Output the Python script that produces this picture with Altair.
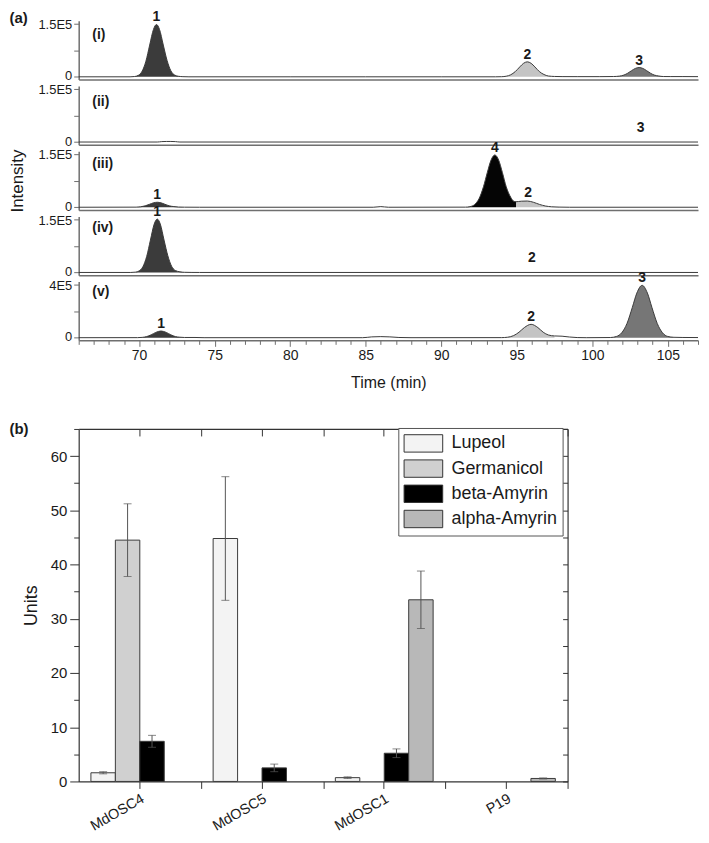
import altair as alt
import pandas as pd

FONT = "Liberation Sans"
TEXT = "#1a1a1a"
AX = "#6f6f6f"

# ---------------- (a) chromatograms ----------------
X_MIN, X_MAX = 66, 107
X_TICKS = list(range(66, 108))
TAG_T = 66.9

t_i = [66, 69.4, 69.7, 69.95, 70.2, 70.45, 70.7, 70.95, 71.15, 71.35, 71.6, 71.85, 72.1, 72.35, 72.6, 72.9, 73.3, 80, 85, 90,
       93.6, 94.0, 94.3, 94.6, 94.9, 95.2, 95.45, 95.7, 95.95, 96.2, 96.5, 96.8, 97.1, 97.5, 98.0, 99.0, 100.5, 101.4, 101.8, 102.1,
       102.35, 102.6, 102.85, 103.1, 103.35, 103.6, 103.85, 104.1, 104.4, 104.7, 105.2, 106, 107]
v_i = [0, 0, 820, 4200, 15800, 43800, 89200, 133000, 147000, 133000, 89200, 46000, 17000, 5000, 1500, 400, 0, 0, 0, 0,
       0, 350, 1650, 5700, 14600, 27800, 37900, 42000, 37900, 27800, 14600, 6500, 2200, 1000, 600, 500, 500, 800, 2000, 5000,
       10200, 17200, 23500, 26000, 23500, 17200, 10200, 5000, 2300, 800, 700, 700, 500]
reg_i = [("p1", 69.4, 73.3), ("p2", 93.6, 98.0), ("p3", 101.4, 104.7)]
lab_i = [("1", 71.15, 147000), ("2", 95.7, 42000), ("3", 103.1, 26000)]

t_ii = [66, 71.2, 71.5, 71.8, 72.1, 72.4, 72.7, 107]
v_ii = [0, 0, 1200, 1600, 1600, 1200, 0, 0]
reg_ii = []
lab_ii = [("3", 103.2, 20000)]

t_iii = [66, 69.8, 70.1, 70.4, 70.7, 70.95, 71.2, 71.45, 71.7, 72.0, 72.3, 72.6, 73.0, 74.0, 85.5, 86.0, 86.5, 91.6, 91.9, 92.2,
         92.5, 92.8, 93.05, 93.3, 93.55, 93.8, 94.05, 94.3, 94.6, 94.8, 94.95, 95.3, 95.7, 96.1, 96.5, 96.9, 97.3, 97.8, 98.5, 107]
v_iii = [0, 280, 1250, 3900, 8500, 12350, 14000, 12350, 8500, 3900, 1800, 600, 200, 0, 0, 1800, 0, 275, 1630, 7250,
         23800, 58000, 97300, 132600, 147000, 132600, 97300, 58000, 28000, 17000, 15500, 17000, 17500, 14000, 8000, 3500, 1300, 400, 0, 0]
reg_iii = [("p1", 69.8, 73.0), ("p4", 91.6, 94.95), ("p2", 94.95, 97.8)]
lab_iii = [("1", 71.2, 14000), ("4", 93.55, 147000), ("2", 95.75, 20000)]

t_iv = [66, 69.45, 69.75, 70.0, 70.25, 70.5, 70.75, 71.0, 71.2, 71.4, 71.65, 71.9, 72.15, 72.4, 72.7, 73.0, 73.5, 74.0, 107]
v_iv = [0, 0, 840, 4300, 16200, 44700, 91000, 136000, 150000, 136000, 91000, 47000, 17500, 5500, 1800, 500, 100, 0, 0]
reg_iv = [("p1", 69.45, 74.0)]
lab_iv = [("1", 71.2, 150000), ("2", 96.0, 20000)]

t_v = [66, 69.9, 70.2, 70.5, 70.8, 71.1, 71.45, 71.8, 72.1, 72.4, 72.7, 73.0, 73.7, 74.3, 84.8, 85.4, 86.0, 86.6, 87.2, 88.0,
       94.0, 94.4, 94.8, 95.15, 95.5, 95.95, 96.4, 96.75, 97.1, 97.5, 98.0, 98.5, 99.0, 99.6, 101.2, 101.6, 101.95, 102.3, 102.65, 102.95,
       103.3, 103.65, 103.95, 104.3, 104.65, 105.0, 105.4, 106.0, 107]
v_v = [0, 400, 2200, 8200, 21500, 39200, 50000, 39200, 21500, 8200, 3500, 1500, 1500, 0, 0, 6000, 8000, 6000, 1500, 0,
       500, 3500, 16000, 41000, 75500, 100000, 75500, 41000, 20000, 13000, 11000, 5000, 1000, 0, 1250, 9100, 36600, 106700, 226000, 334000,
       392000, 334000, 226000, 106700, 36600, 9100, 3000, 1500, 1000]
reg_v = [("p1", 69.9, 73.0), ("p2", 94.0, 97.5), ("p3", 101.2, 105.4)]
lab_v = [("1", 71.45, 50000), ("2", 95.95, 100000), ("3", 103.3, 392000)]

PANEL_TAGS = ["(i)", "(ii)", "(iii)", "(iv)", "(v)"]
PANEL_TAG_V = [116000, 112000, 121000, 125000, 344000]
PANEL_MAX = [150000, 150000, 150000, 150000, 400000]
PANEL_MAX_LABEL = ["1.5E5", "1.5E5", "1.5E5", "1.5E5", "4E5"]

PEAK_NAMES = ["p1", "p2", "p3", "p4"]
PEAK_COLORS = ["#3b3b3b", "#c4c4c4", "#767676", "#050505"]

PW, PH = 622, 59
LEFT = 70


def panel(t, v, regions, labels, idx, bottom=False, ytitle_kw=None):
    ymax = PANEL_MAX[idx]
    line_df = pd.DataFrame({"t": t, "v": v})
    rows = []
    for name, a, b in regions:
        for tt, vv in zip(t, v):
            if a <= tt <= b:
                rows.append({"t": tt, "v": vv, "peak": name})
    area_df = pd.DataFrame(rows, columns=["t", "v", "peak"])
    lab_df = pd.DataFrame(labels, columns=["lab", "t", "v"])
    tag_df = pd.DataFrame({"lab": [PANEL_TAGS[idx]], "t": [TAG_T], "v": [PANEL_TAG_V[idx]]})

    xscale = alt.Scale(domain=[X_MIN, X_MAX], nice=False, zero=False)
    yscale = alt.Scale(domain=[-ymax * 0.05, ymax * 1.05], nice=False, zero=False)
    if bottom:
        xaxis = alt.Axis(values=X_TICKS, labelExpr="datum.value % 5 === 0 ? datum.label : ''",
                         tickSize={"condition": {"test": "datum.value % 5 === 0", "value": 6}, "value": 4},
                         tickColor=AX, domainColor=AX, domainWidth=1.5, labelFontSize=14, labelPadding=2,
                         labelFlush=False, labelOverlap=False, title="Time (min)", titleFontSize=16,
                         titlePadding=12)
    else:
        xaxis = alt.Axis(labels=False, ticks=False, title=None, domainColor=AX, domainWidth=1.5)
    ykw = dict(values=[0, ymax / 2, ymax],
               labelExpr=f"datum.value === 0 ? '0' : datum.value === {ymax} ? '{PANEL_MAX_LABEL[idx]}' : ''",
               labelOffset={"condition": {"test": "datum.value === 0", "value": -1}, "value": 1},
               tickSize=5, tickColor=AX, domainColor=AX, domainWidth=1.5, labelFontSize=13, labelPadding=2,
               labelOverlap=False)
    if ytitle_kw:
        ykw.update(ytitle_kw)
    else:
        ykw["title"] = None
    yaxis = alt.Axis(**ykw)
    ex = alt.X("t:Q", scale=xscale, axis=xaxis)
    ey = alt.Y("v:Q", scale=yscale, axis=yaxis, stack=None)

    layers = []
    if len(area_df):
        layers.append(alt.Chart(area_df).mark_area(interpolate="monotone").encode(
            x=ex, y=ey,
            color=alt.Color("peak:N", scale=alt.Scale(domain=PEAK_NAMES, range=PEAK_COLORS), legend=None)))
    layers.append(alt.Chart(line_df).mark_line(interpolate="monotone", color="#3a3a3a", strokeWidth=1).encode(x=ex, y=ey))
    layers.append(alt.Chart(lab_df).mark_text(fontWeight="bold", fontSize=14, baseline="bottom", color=TEXT).encode(
        x=ex, y=ey, text="lab:N"))
    layers.append(alt.Chart(tag_df).mark_text(fontWeight="bold", fontSize=14, align="left", baseline="middle", color=TEXT).encode(
        x=ex, y=ey, text="lab:N"))
    return alt.layer(*layers).properties(width=PW, height=PH)


p1 = panel(t_i, v_i, reg_i, lab_i, 0, ytitle_kw=dict(title="(a)", titleAngle=0, titleX=-LEFT, titleY=-3, titleAlign="left",
                                                     titleBaseline="middle", titleFontWeight="bold", titleFontSize=15))
p2 = panel(t_ii, v_ii, reg_ii, lab_ii, 1)
p3 = panel(t_iii, v_iii, reg_iii, lab_iii, 2, ytitle_kw=dict(title="Intensity", titleAngle=270, titleX=-(LEFT - 8.5),
                                                           titleY=PH / 2, titleAlign="center", titleBaseline="middle",
                                                           titleFontSize=17))
p4 = panel(t_iv, v_iv, reg_iv, lab_iv, 3)
p5 = panel(t_v, v_v, reg_v, lab_v, 4, bottom=True)

top = alt.vconcat(p1, p2, p3, p4, p5, spacing=6.5, bounds="flush")

# ---------------- (b) bar chart ----------------
CATS = ["MdOSC4", "MdOSC5", "MdOSC1", "P19"]
SERIES = ["Lupeol", "Germanicol", "beta-Amyrin", "alpha-Amyrin"]
FILLS = ["#f3f3f3", "#d0d0d0", "#000000", "#b8b8b8"]
lupeol = [1.6, 44.8, 0.7, 0.0]
lupeol_err = [0.2, 11.4, 0.15, 0.0]
germanicol = [44.5, 0.0, 0.0, 0.0]
germanicol_err = [6.7, 0.0, 0.0, 0.0]
beta = [7.4, 2.5, 5.2, 0.0]
beta_err = [1.1, 0.7, 0.8, 0.0]
alpha = [0.0, 0.0, 33.5, 0.55]
alpha_err = [0.0, 0.0, 5.3, 0.1]

rows = []
for s, vals, errs in zip(SERIES, [lupeol, germanicol, beta, alpha], [lupeol_err, germanicol_err, beta_err, alpha_err]):
    for c, val, e in zip(CATS, vals, errs):
        rows.append({"cat": c, "series": s, "value": val, "err": e})
bar_df = pd.DataFrame(rows)

BW, BH = 491, 354
STEP_HALF = BW / 4 / 2
SYM_R = 9.7


def xenc(axis):
    return alt.X("cat:N", sort=CATS, scale=alt.Scale(domain=CATS, paddingInner=0.2, paddingOuter=0.1), axis=axis)


xoff = alt.XOffset("series:N", sort=SERIES, scale=alt.Scale(domain=SERIES, paddingInner=0, paddingOuter=0))
yscale_b = alt.Scale(domain=[0, 65], nice=False)
Y_VALUES = list(range(0, 66, 5))

ax_bottom = alt.Axis(orient="bottom", labelAngle=330, labelFontSize=14.5, labelPadding=3, tickSize=7, tickColor="#333",
                     domainColor="#333", domainWidth=1.2, title=None)
ax_bottom2 = alt.Axis(orient="bottom", labels=False, domain=False, tickSize=7, tickOffset=STEP_HALF, tickColor="#333",
                      title=None)
ax_top = alt.Axis(orient="top", labels=False, tickSize={"expr": "-7"}, tickColor="#333", domainColor="#333",
                  domainWidth=1.2, title=None)
ax_top2 = alt.Axis(orient="top", labels=False, domain=False, tickSize={"expr": "-7"}, tickOffset=STEP_HALF,
                   tickColor="#333", title=None)
ay_left = alt.Axis(orient="left", values=Y_VALUES, labelExpr="datum.value % 10 === 0 ? datum.label : ''",
                   tickSize={"condition": {"test": "datum.value % 10 === 0", "value": 9}, "value": 5},
                   tickColor="#333", domainColor="#333", domainWidth=1.2, labelFontSize=15, labelPadding=3,
                   title="Units", titleFontSize=18, titlePadding=10)
ay_right = alt.Axis(orient="right", values=Y_VALUES, labels=False, tickSize={"expr": "-5"}, tickColor="#333",
                    domainColor="#333", domainWidth=1.2, title="(b)", titleAngle=0, titleX=-(BW + LEFT), titleY=0,
                    titleAlign="left", titleBaseline="middle", titleFontWeight="bold", titleFontSize=15)

base = alt.Chart(bar_df)
bars = base.transform_filter("datum.value > 0").mark_bar(stroke="#3a3a3a", strokeWidth=1).encode(
    x=xenc(ax_bottom), xOffset=xoff,
    y=alt.Y("value:Q", scale=yscale_b, axis=ay_left),
    fill=alt.Fill("series:N", sort=SERIES, scale=alt.Scale(domain=SERIES, range=FILLS),
                  legend=alt.Legend(orient="none", legendX=321, legendY=-1, title=None,
                                    symbolType="M-1,-0.9L3,-0.9L3,0.9L-1,0.9Z", symbolSize=(2 * SYM_R) ** 2,
                                    symbolStrokeColor="#333", symbolStrokeWidth=1, labelFontSize=18,
                                    labelFont=FONT, labelColor=TEXT, padding=5, strokeColor="#555",
                                    fillColor="white", rowPadding=2.3, labelOffset=2 * SYM_R + 8)))
err = base.transform_filter("datum.err > 0").transform_calculate(
    lo="datum.value - datum.err", hi="datum.value + datum.err")
rules = err.mark_rule(color="#555", strokeWidth=1).encode(
    x=xenc(ax_bottom2), xOffset=xoff, y=alt.Y("lo:Q", scale=yscale_b, axis=ay_right), y2="hi:Q")
caps_hi = err.mark_tick(color="#555", size=8, thickness=1).encode(
    x=xenc(ax_top), xOffset=xoff, y=alt.Y("hi:Q", scale=yscale_b, axis=None))
caps_lo = err.mark_tick(color="#555", size=8, thickness=1).encode(
    x=xenc(ax_top2), xOffset=xoff, y=alt.Y("lo:Q", scale=yscale_b, axis=None))

bar_chart = alt.layer(bars, rules, caps_hi, caps_lo).resolve_axis(x="independent", y="independent").properties(
    width=BW, height=BH)

chart = alt.vconcat(top, bar_chart, spacing=30).resolve_scale(color="independent", fill="independent").properties(
    padding={"left": 0, "top": 0, "right": 0, "bottom": 0}
).configure_view(stroke="transparent").configure_axis(
    grid=False, labelFont=FONT, titleFont=FONT, labelColor=TEXT, titleColor=TEXT, titleFontWeight="normal"
).configure_text(font=FONT)

chart.save("out.html", embed_options={"renderer": "svg", "actions": False})
